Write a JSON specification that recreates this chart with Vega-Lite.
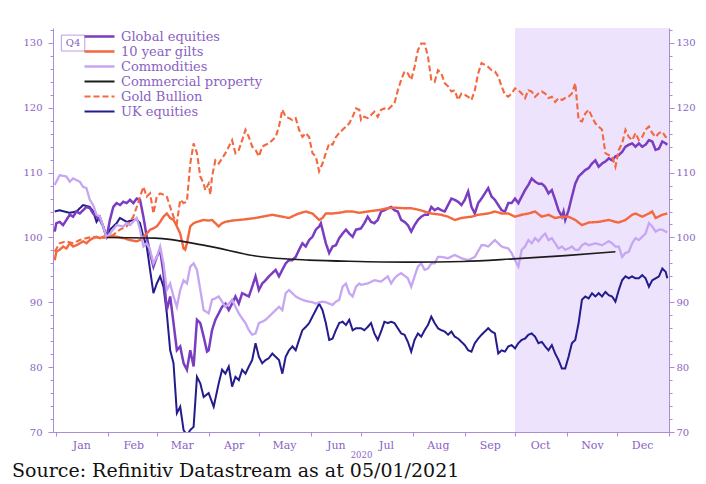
{
"$schema": "https://vega.github.io/schema/vega-lite/v6.json",
"width": 616, "height": 404,
"autosize": {"type": "none"},
"padding": {"left": 53, "top": 28, "right": 37, "bottom": 52},
"background": "white",
"config": {"view": {"stroke": null}, "font": "DejaVu Serif",
  "axis": {"labelFont": "DejaVu Serif", "titleFont": "DejaVu Serif", "domainColor": "#a98ddb", "tickColor": "#a98ddb", "labelColor": "#8a62c4", "titleColor": "#8a62c4", "grid": false}},
"title": {"text": "Source: Refinitiv Datastream as at 05/01/2021", "orient": "bottom", "anchor": "start", "frame": "group", "dx": -41, "offset": 3, "font": "DejaVu Serif", "fontSize": 19, "fontWeight": "normal", "color": "#111111"},
"datasets": {"series": [
{"d":"2019-12-31","s":"UK equities","v":104.0},{"d":"2020-01-03","s":"UK equities","v":104.2},{"d":"2020-01-09","s":"UK equities","v":103.8},{"d":"2020-01-13","s":"UK equities","v":104.0},{"d":"2020-01-17","s":"UK equities","v":105.0},{"d":"2020-01-21","s":"UK equities","v":104.7},{"d":"2020-01-23","s":"UK equities","v":104.0},{"d":"2020-01-25","s":"UK equities","v":102.4},{"d":"2020-01-27","s":"UK equities","v":103.2},{"d":"2020-01-29","s":"UK equities","v":101.7},{"d":"2020-01-31","s":"UK equities","v":100},{"d":"2020-02-02","s":"UK equities","v":101.2},{"d":"2020-02-06","s":"UK equities","v":102.2},{"d":"2020-02-08","s":"UK equities","v":103.0},{"d":"2020-02-12","s":"UK equities","v":102.4},{"d":"2020-02-16","s":"UK equities","v":102.7},{"d":"2020-02-18","s":"UK equities","v":102.8},{"d":"2020-02-20","s":"UK equities","v":102.2},{"d":"2020-02-22","s":"UK equities","v":100.1},{"d":"2020-02-24","s":"UK equities","v":98.6},{"d":"2020-02-26","s":"UK equities","v":95.0},{"d":"2020-02-28","s":"UK equities","v":91.4},{"d":"2020-03-01","s":"UK equities","v":92.9},{"d":"2020-03-03","s":"UK equities","v":94.0},{"d":"2020-03-05","s":"UK equities","v":92.4},{"d":"2020-03-07","s":"UK equities","v":88.3},{"d":"2020-03-09","s":"UK equities","v":82.6},{"d":"2020-03-11","s":"UK equities","v":80.6},{"d":"2020-03-13","s":"UK equities","v":72.9},{"d":"2020-03-15","s":"UK equities","v":73.9},{"d":"2020-03-17","s":"UK equities","v":70.3},{"d":"2020-03-19","s":"UK equities","v":69.5},{"d":"2020-03-21","s":"UK equities","v":70.3},{"d":"2020-03-23","s":"UK equities","v":70.8},{"d":"2020-03-25","s":"UK equities","v":78.5},{"d":"2020-03-27","s":"UK equities","v":77.5},{"d":"2020-03-29","s":"UK equities","v":75.4},{"d":"2020-04-01","s":"UK equities","v":76.0},{"d":"2020-04-04","s":"UK equities","v":73.9},{"d":"2020-04-07","s":"UK equities","v":77.5},{"d":"2020-04-09","s":"UK equities","v":79.6},{"d":"2020-04-11","s":"UK equities","v":79.0},{"d":"2020-04-13","s":"UK equities","v":80.1},{"d":"2020-04-15","s":"UK equities","v":77.0},{"d":"2020-04-17","s":"UK equities","v":78.5},{"d":"2020-04-19","s":"UK equities","v":78.0},{"d":"2020-04-21","s":"UK equities","v":79.6},{"d":"2020-04-23","s":"UK equities","v":79.0},{"d":"2020-04-25","s":"UK equities","v":80.1},{"d":"2020-04-27","s":"UK equities","v":81.1},{"d":"2020-04-29","s":"UK equities","v":83.7},{"d":"2020-05-01","s":"UK equities","v":81.6},{"d":"2020-05-03","s":"UK equities","v":80.6},{"d":"2020-05-05","s":"UK equities","v":81.1},{"d":"2020-05-07","s":"UK equities","v":81.4},{"d":"2020-05-09","s":"UK equities","v":82.1},{"d":"2020-05-11","s":"UK equities","v":81.6},{"d":"2020-05-13","s":"UK equities","v":81.1},{"d":"2020-05-15","s":"UK equities","v":79.0},{"d":"2020-05-17","s":"UK equities","v":81.6},{"d":"2020-05-19","s":"UK equities","v":82.6},{"d":"2020-05-21","s":"UK equities","v":83.2},{"d":"2020-05-23","s":"UK equities","v":82.6},{"d":"2020-05-25","s":"UK equities","v":84.2},{"d":"2020-05-27","s":"UK equities","v":85.7},{"d":"2020-05-29","s":"UK equities","v":86.2},{"d":"2020-05-31","s":"UK equities","v":86.8},{"d":"2020-06-02","s":"UK equities","v":87.8},{"d":"2020-06-04","s":"UK equities","v":88.8},{"d":"2020-06-06","s":"UK equities","v":89.8},{"d":"2020-06-08","s":"UK equities","v":88.8},{"d":"2020-06-10","s":"UK equities","v":86.8},{"d":"2020-06-12","s":"UK equities","v":84.2},{"d":"2020-06-14","s":"UK equities","v":84.4},{"d":"2020-06-16","s":"UK equities","v":85.7},{"d":"2020-06-18","s":"UK equities","v":86.8},{"d":"2020-06-20","s":"UK equities","v":87.0},{"d":"2020-06-22","s":"UK equities","v":86.5},{"d":"2020-06-24","s":"UK equities","v":87.3},{"d":"2020-06-26","s":"UK equities","v":85.7},{"d":"2020-06-28","s":"UK equities","v":86.0},{"d":"2020-07-01","s":"UK equities","v":86.0},{"d":"2020-07-03","s":"UK equities","v":85.7},{"d":"2020-07-05","s":"UK equities","v":86.2},{"d":"2020-07-07","s":"UK equities","v":86.8},{"d":"2020-07-09","s":"UK equities","v":85.2},{"d":"2020-07-11","s":"UK equities","v":84.2},{"d":"2020-07-13","s":"UK equities","v":85.5},{"d":"2020-07-15","s":"UK equities","v":87.0},{"d":"2020-07-17","s":"UK equities","v":86.8},{"d":"2020-07-19","s":"UK equities","v":87.0},{"d":"2020-07-21","s":"UK equities","v":86.8},{"d":"2020-07-23","s":"UK equities","v":86.0},{"d":"2020-07-25","s":"UK equities","v":85.2},{"d":"2020-07-27","s":"UK equities","v":85.0},{"d":"2020-07-29","s":"UK equities","v":83.9},{"d":"2020-07-31","s":"UK equities","v":82.4},{"d":"2020-08-02","s":"UK equities","v":84.2},{"d":"2020-08-04","s":"UK equities","v":85.2},{"d":"2020-08-06","s":"UK equities","v":84.7},{"d":"2020-08-08","s":"UK equities","v":85.7},{"d":"2020-08-10","s":"UK equities","v":86.5},{"d":"2020-08-12","s":"UK equities","v":87.8},{"d":"2020-08-14","s":"UK equities","v":86.8},{"d":"2020-08-16","s":"UK equities","v":86.0},{"d":"2020-08-18","s":"UK equities","v":85.7},{"d":"2020-08-20","s":"UK equities","v":85.5},{"d":"2020-08-22","s":"UK equities","v":85.0},{"d":"2020-08-24","s":"UK equities","v":85.5},{"d":"2020-08-26","s":"UK equities","v":84.7},{"d":"2020-08-28","s":"UK equities","v":84.4},{"d":"2020-08-30","s":"UK equities","v":83.9},{"d":"2020-09-01","s":"UK equities","v":83.4},{"d":"2020-09-03","s":"UK equities","v":82.6},{"d":"2020-09-05","s":"UK equities","v":82.4},{"d":"2020-09-07","s":"UK equities","v":83.7},{"d":"2020-09-09","s":"UK equities","v":84.4},{"d":"2020-09-11","s":"UK equities","v":85.0},{"d":"2020-09-13","s":"UK equities","v":85.5},{"d":"2020-09-15","s":"UK equities","v":86.0},{"d":"2020-09-17","s":"UK equities","v":85.5},{"d":"2020-09-19","s":"UK equities","v":85.2},{"d":"2020-09-21","s":"UK equities","v":82.1},{"d":"2020-09-23","s":"UK equities","v":82.6},{"d":"2020-09-25","s":"UK equities","v":82.4},{"d":"2020-09-27","s":"UK equities","v":83.2},{"d":"2020-09-29","s":"UK equities","v":83.4},{"d":"2020-10-01","s":"UK equities","v":82.9},{"d":"2020-10-03","s":"UK equities","v":83.7},{"d":"2020-10-05","s":"UK equities","v":84.2},{"d":"2020-10-07","s":"UK equities","v":84.4},{"d":"2020-10-09","s":"UK equities","v":85.0},{"d":"2020-10-11","s":"UK equities","v":85.2},{"d":"2020-10-13","s":"UK equities","v":84.7},{"d":"2020-10-15","s":"UK equities","v":83.7},{"d":"2020-10-17","s":"UK equities","v":83.9},{"d":"2020-10-19","s":"UK equities","v":83.2},{"d":"2020-10-21","s":"UK equities","v":82.6},{"d":"2020-10-23","s":"UK equities","v":83.4},{"d":"2020-10-25","s":"UK equities","v":82.1},{"d":"2020-10-27","s":"UK equities","v":81.1},{"d":"2020-10-29","s":"UK equities","v":79.8},{"d":"2020-10-31","s":"UK equities","v":79.8},{"d":"2020-11-02","s":"UK equities","v":81.6},{"d":"2020-11-04","s":"UK equities","v":83.7},{"d":"2020-11-06","s":"UK equities","v":84.2},{"d":"2020-11-08","s":"UK equities","v":86.8},{"d":"2020-11-10","s":"UK equities","v":90.4},{"d":"2020-11-12","s":"UK equities","v":90.9},{"d":"2020-11-14","s":"UK equities","v":90.6},{"d":"2020-11-16","s":"UK equities","v":91.4},{"d":"2020-11-18","s":"UK equities","v":90.9},{"d":"2020-11-20","s":"UK equities","v":91.4},{"d":"2020-11-22","s":"UK equities","v":90.9},{"d":"2020-11-24","s":"UK equities","v":91.6},{"d":"2020-11-26","s":"UK equities","v":91.1},{"d":"2020-11-28","s":"UK equities","v":90.9},{"d":"2020-11-30","s":"UK equities","v":90.1},{"d":"2020-12-02","s":"UK equities","v":91.9},{"d":"2020-12-04","s":"UK equities","v":93.4},{"d":"2020-12-06","s":"UK equities","v":94.0},{"d":"2020-12-08","s":"UK equities","v":93.7},{"d":"2020-12-10","s":"UK equities","v":94.0},{"d":"2020-12-12","s":"UK equities","v":93.7},{"d":"2020-12-14","s":"UK equities","v":93.7},{"d":"2020-12-16","s":"UK equities","v":94.2},{"d":"2020-12-18","s":"UK equities","v":93.7},{"d":"2020-12-20","s":"UK equities","v":92.4},{"d":"2020-12-22","s":"UK equities","v":93.4},{"d":"2020-12-24","s":"UK equities","v":93.7},{"d":"2020-12-26","s":"UK equities","v":94.0},{"d":"2020-12-28","s":"UK equities","v":95.2},{"d":"2020-12-30","s":"UK equities","v":94.7},{"d":"2020-12-31","s":"UK equities","v":93.7},
{"d":"2019-12-31","s":"Global equities","v":100.9},{"d":"2020-01-01","s":"Global equities","v":102.2},{"d":"2020-01-03","s":"Global equities","v":102.4},{"d":"2020-01-05","s":"Global equities","v":101.9},{"d":"2020-01-07","s":"Global equities","v":102.7},{"d":"2020-01-09","s":"Global equities","v":103.5},{"d":"2020-01-11","s":"Global equities","v":103.2},{"d":"2020-01-13","s":"Global equities","v":104.0},{"d":"2020-01-15","s":"Global equities","v":103.7},{"d":"2020-01-17","s":"Global equities","v":104.2},{"d":"2020-01-19","s":"Global equities","v":104.7},{"d":"2020-01-21","s":"Global equities","v":104.5},{"d":"2020-01-23","s":"Global equities","v":103.7},{"d":"2020-01-25","s":"Global equities","v":103.2},{"d":"2020-01-27","s":"Global equities","v":102.7},{"d":"2020-01-29","s":"Global equities","v":101.7},{"d":"2020-01-31","s":"Global equities","v":100},{"d":"2020-02-02","s":"Global equities","v":102.7},{"d":"2020-02-04","s":"Global equities","v":104.7},{"d":"2020-02-06","s":"Global equities","v":105.3},{"d":"2020-02-08","s":"Global equities","v":105.0},{"d":"2020-02-10","s":"Global equities","v":105.5},{"d":"2020-02-12","s":"Global equities","v":105.3},{"d":"2020-02-14","s":"Global equities","v":105.8},{"d":"2020-02-16","s":"Global equities","v":105.3},{"d":"2020-02-18","s":"Global equities","v":106.0},{"d":"2020-02-20","s":"Global equities","v":105.8},{"d":"2020-02-22","s":"Global equities","v":103.2},{"d":"2020-02-24","s":"Global equities","v":100.1},{"d":"2020-02-26","s":"Global equities","v":97.6},{"d":"2020-02-28","s":"Global equities","v":95.5},{"d":"2020-03-01","s":"Global equities","v":97.0},{"d":"2020-03-03","s":"Global equities","v":98.1},{"d":"2020-03-05","s":"Global equities","v":94.5},{"d":"2020-03-07","s":"Global equities","v":88.8},{"d":"2020-03-09","s":"Global equities","v":90.9},{"d":"2020-03-11","s":"Global equities","v":86.8},{"d":"2020-03-13","s":"Global equities","v":82.6},{"d":"2020-03-15","s":"Global equities","v":83.2},{"d":"2020-03-17","s":"Global equities","v":80.6},{"d":"2020-03-19","s":"Global equities","v":79.6},{"d":"2020-03-21","s":"Global equities","v":82.6},{"d":"2020-03-23","s":"Global equities","v":80.1},{"d":"2020-03-25","s":"Global equities","v":87.3},{"d":"2020-03-27","s":"Global equities","v":86.8},{"d":"2020-03-29","s":"Global equities","v":84.7},{"d":"2020-03-31","s":"Global equities","v":82.4},{"d":"2020-04-01","s":"Global equities","v":82.6},{"d":"2020-04-03","s":"Global equities","v":85.7},{"d":"2020-04-05","s":"Global equities","v":87.3},{"d":"2020-04-07","s":"Global equities","v":88.3},{"d":"2020-04-09","s":"Global equities","v":89.3},{"d":"2020-04-11","s":"Global equities","v":89.8},{"d":"2020-04-13","s":"Global equities","v":88.8},{"d":"2020-04-15","s":"Global equities","v":89.8},{"d":"2020-04-17","s":"Global equities","v":90.9},{"d":"2020-04-19","s":"Global equities","v":89.8},{"d":"2020-04-21","s":"Global equities","v":91.4},{"d":"2020-04-25","s":"Global equities","v":90.9},{"d":"2020-04-27","s":"Global equities","v":92.4},{"d":"2020-04-29","s":"Global equities","v":94.0},{"d":"2020-05-01","s":"Global equities","v":91.9},{"d":"2020-05-03","s":"Global equities","v":92.9},{"d":"2020-05-05","s":"Global equities","v":93.4},{"d":"2020-05-07","s":"Global equities","v":94.0},{"d":"2020-05-09","s":"Global equities","v":94.5},{"d":"2020-05-11","s":"Global equities","v":95.0},{"d":"2020-05-13","s":"Global equities","v":94.0},{"d":"2020-05-15","s":"Global equities","v":95.0},{"d":"2020-05-17","s":"Global equities","v":96.0},{"d":"2020-05-19","s":"Global equities","v":96.5},{"d":"2020-05-21","s":"Global equities","v":96.5},{"d":"2020-05-23","s":"Global equities","v":97.0},{"d":"2020-05-25","s":"Global equities","v":98.1},{"d":"2020-05-27","s":"Global equities","v":99.1},{"d":"2020-05-29","s":"Global equities","v":98.6},{"d":"2020-05-31","s":"Global equities","v":99.6},{"d":"2020-06-02","s":"Global equities","v":100.1},{"d":"2020-06-04","s":"Global equities","v":101.2},{"d":"2020-06-06","s":"Global equities","v":101.7},{"d":"2020-06-07","s":"Global equities","v":102.2},{"d":"2020-06-08","s":"Global equities","v":101.2},{"d":"2020-06-10","s":"Global equities","v":99.1},{"d":"2020-06-12","s":"Global equities","v":97.6},{"d":"2020-06-14","s":"Global equities","v":98.6},{"d":"2020-06-16","s":"Global equities","v":98.8},{"d":"2020-06-18","s":"Global equities","v":99.9},{"d":"2020-06-20","s":"Global equities","v":100.6},{"d":"2020-06-22","s":"Global equities","v":101.2},{"d":"2020-06-24","s":"Global equities","v":100.6},{"d":"2020-06-26","s":"Global equities","v":100.1},{"d":"2020-06-28","s":"Global equities","v":101.2},{"d":"2020-07-01","s":"Global equities","v":101.4},{"d":"2020-07-03","s":"Global equities","v":102.2},{"d":"2020-07-05","s":"Global equities","v":103.2},{"d":"2020-07-07","s":"Global equities","v":102.4},{"d":"2020-07-09","s":"Global equities","v":102.2},{"d":"2020-07-11","s":"Global equities","v":102.7},{"d":"2020-07-13","s":"Global equities","v":104.0},{"d":"2020-07-15","s":"Global equities","v":104.2},{"d":"2020-07-17","s":"Global equities","v":104.5},{"d":"2020-07-19","s":"Global equities","v":104.7},{"d":"2020-07-21","s":"Global equities","v":104.2},{"d":"2020-07-23","s":"Global equities","v":104.0},{"d":"2020-07-25","s":"Global equities","v":102.7},{"d":"2020-07-27","s":"Global equities","v":102.4},{"d":"2020-07-29","s":"Global equities","v":101.9},{"d":"2020-07-31","s":"Global equities","v":100.9},{"d":"2020-08-02","s":"Global equities","v":101.9},{"d":"2020-08-04","s":"Global equities","v":102.7},{"d":"2020-08-06","s":"Global equities","v":103.2},{"d":"2020-08-08","s":"Global equities","v":103.5},{"d":"2020-08-10","s":"Global equities","v":103.5},{"d":"2020-08-12","s":"Global equities","v":104.7},{"d":"2020-08-14","s":"Global equities","v":104.2},{"d":"2020-08-16","s":"Global equities","v":104.5},{"d":"2020-08-18","s":"Global equities","v":104.2},{"d":"2020-08-20","s":"Global equities","v":104.0},{"d":"2020-08-22","s":"Global equities","v":105.0},{"d":"2020-08-24","s":"Global equities","v":106.0},{"d":"2020-08-26","s":"Global equities","v":105.8},{"d":"2020-08-28","s":"Global equities","v":105.5},{"d":"2020-08-30","s":"Global equities","v":105.0},{"d":"2020-09-01","s":"Global equities","v":105.8},{"d":"2020-09-03","s":"Global equities","v":107.1},{"d":"2020-09-05","s":"Global equities","v":104.7},{"d":"2020-09-07","s":"Global equities","v":103.7},{"d":"2020-09-09","s":"Global equities","v":105.3},{"d":"2020-09-11","s":"Global equities","v":106.0},{"d":"2020-09-13","s":"Global equities","v":106.8},{"d":"2020-09-15","s":"Global equities","v":107.6},{"d":"2020-09-17","s":"Global equities","v":106.3},{"d":"2020-09-19","s":"Global equities","v":105.8},{"d":"2020-09-21","s":"Global equities","v":105.0},{"d":"2020-09-23","s":"Global equities","v":104.2},{"d":"2020-09-25","s":"Global equities","v":104.0},{"d":"2020-09-27","s":"Global equities","v":105.3},{"d":"2020-09-29","s":"Global equities","v":105.3},{"d":"2020-10-01","s":"Global equities","v":106.0},{"d":"2020-10-03","s":"Global equities","v":105.3},{"d":"2020-10-05","s":"Global equities","v":106.3},{"d":"2020-10-07","s":"Global equities","v":107.3},{"d":"2020-10-09","s":"Global equities","v":108.1},{"d":"2020-10-11","s":"Global equities","v":109.1},{"d":"2020-10-13","s":"Global equities","v":108.6},{"d":"2020-10-15","s":"Global equities","v":108.3},{"d":"2020-10-17","s":"Global equities","v":108.3},{"d":"2020-10-19","s":"Global equities","v":107.8},{"d":"2020-10-21","s":"Global equities","v":106.8},{"d":"2020-10-23","s":"Global equities","v":107.3},{"d":"2020-10-25","s":"Global equities","v":105.8},{"d":"2020-10-27","s":"Global equities","v":104.2},{"d":"2020-10-29","s":"Global equities","v":103.2},{"d":"2020-10-30","s":"Global equities","v":104.0},{"d":"2020-10-31","s":"Global equities","v":102.7},{"d":"2020-11-02","s":"Global equities","v":104.2},{"d":"2020-11-04","s":"Global equities","v":106.3},{"d":"2020-11-06","s":"Global equities","v":108.3},{"d":"2020-11-08","s":"Global equities","v":109.4},{"d":"2020-11-10","s":"Global equities","v":109.9},{"d":"2020-11-12","s":"Global equities","v":110.4},{"d":"2020-11-14","s":"Global equities","v":110.7},{"d":"2020-11-16","s":"Global equities","v":111.4},{"d":"2020-11-18","s":"Global equities","v":111.9},{"d":"2020-11-20","s":"Global equities","v":110.9},{"d":"2020-11-22","s":"Global equities","v":111.4},{"d":"2020-11-24","s":"Global equities","v":111.7},{"d":"2020-11-26","s":"Global equities","v":112.2},{"d":"2020-11-28","s":"Global equities","v":111.9},{"d":"2020-11-30","s":"Global equities","v":112.5},{"d":"2020-12-02","s":"Global equities","v":112.7},{"d":"2020-12-04","s":"Global equities","v":113.2},{"d":"2020-12-06","s":"Global equities","v":114.0},{"d":"2020-12-08","s":"Global equities","v":114.3},{"d":"2020-12-10","s":"Global equities","v":114.5},{"d":"2020-12-12","s":"Global equities","v":114.0},{"d":"2020-12-14","s":"Global equities","v":114.5},{"d":"2020-12-16","s":"Global equities","v":114.0},{"d":"2020-12-18","s":"Global equities","v":114.3},{"d":"2020-12-20","s":"Global equities","v":115.0},{"d":"2020-12-22","s":"Global equities","v":114.8},{"d":"2020-12-24","s":"Global equities","v":113.5},{"d":"2020-12-26","s":"Global equities","v":113.7},{"d":"2020-12-28","s":"Global equities","v":114.8},{"d":"2020-12-30","s":"Global equities","v":114.5},{"d":"2020-12-31","s":"Global equities","v":114.3},
{"d":"2019-12-31","s":"10 year gilts","v":96.5},{"d":"2020-01-01","s":"10 year gilts","v":97.8},{"d":"2020-01-03","s":"10 year gilts","v":98.1},{"d":"2020-01-05","s":"10 year gilts","v":98.6},{"d":"2020-01-07","s":"10 year gilts","v":98.3},{"d":"2020-01-09","s":"10 year gilts","v":99.1},{"d":"2020-01-11","s":"10 year gilts","v":98.6},{"d":"2020-01-13","s":"10 year gilts","v":98.8},{"d":"2020-01-15","s":"10 year gilts","v":99.1},{"d":"2020-01-17","s":"10 year gilts","v":99.4},{"d":"2020-01-19","s":"10 year gilts","v":99.1},{"d":"2020-01-21","s":"10 year gilts","v":99.6},{"d":"2020-01-23","s":"10 year gilts","v":99.9},{"d":"2020-01-25","s":"10 year gilts","v":100.1},{"d":"2020-01-27","s":"10 year gilts","v":99.9},{"d":"2020-01-29","s":"10 year gilts","v":100.1},{"d":"2020-01-31","s":"10 year gilts","v":100},{"d":"2020-02-03","s":"10 year gilts","v":100.2},{"d":"2020-02-06","s":"10 year gilts","v":100.1},{"d":"2020-02-10","s":"10 year gilts","v":99.9},{"d":"2020-02-14","s":"10 year gilts","v":99.6},{"d":"2020-02-18","s":"10 year gilts","v":99.4},{"d":"2020-02-20","s":"10 year gilts","v":99.6},{"d":"2020-02-22","s":"10 year gilts","v":100.1},{"d":"2020-02-24","s":"10 year gilts","v":100.6},{"d":"2020-02-26","s":"10 year gilts","v":101.2},{"d":"2020-02-28","s":"10 year gilts","v":101.4},{"d":"2020-03-01","s":"10 year gilts","v":101.7},{"d":"2020-03-03","s":"10 year gilts","v":102.4},{"d":"2020-03-05","s":"10 year gilts","v":103.2},{"d":"2020-03-07","s":"10 year gilts","v":103.7},{"d":"2020-03-09","s":"10 year gilts","v":103.0},{"d":"2020-03-11","s":"10 year gilts","v":102.7},{"d":"2020-03-13","s":"10 year gilts","v":101.7},{"d":"2020-03-15","s":"10 year gilts","v":100.6},{"d":"2020-03-17","s":"10 year gilts","v":98.3},{"d":"2020-03-18","s":"10 year gilts","v":98.1},{"d":"2020-03-19","s":"10 year gilts","v":99.1},{"d":"2020-03-21","s":"10 year gilts","v":101.7},{"d":"2020-03-23","s":"10 year gilts","v":102.2},{"d":"2020-03-25","s":"10 year gilts","v":102.4},{"d":"2020-03-29","s":"10 year gilts","v":102.7},{"d":"2020-04-01","s":"10 year gilts","v":102.6},{"d":"2020-04-03","s":"10 year gilts","v":102.7},{"d":"2020-04-05","s":"10 year gilts","v":102.2},{"d":"2020-04-07","s":"10 year gilts","v":101.7},{"d":"2020-04-09","s":"10 year gilts","v":102.2},{"d":"2020-04-11","s":"10 year gilts","v":102.4},{"d":"2020-04-15","s":"10 year gilts","v":102.6},{"d":"2020-04-19","s":"10 year gilts","v":102.7},{"d":"2020-04-23","s":"10 year gilts","v":102.8},{"d":"2020-04-29","s":"10 year gilts","v":103.0},{"d":"2020-05-05","s":"10 year gilts","v":103.3},{"d":"2020-05-09","s":"10 year gilts","v":103.5},{"d":"2020-05-15","s":"10 year gilts","v":103.2},{"d":"2020-05-19","s":"10 year gilts","v":103.0},{"d":"2020-05-23","s":"10 year gilts","v":103.5},{"d":"2020-05-25","s":"10 year gilts","v":103.7},{"d":"2020-05-29","s":"10 year gilts","v":104.0},{"d":"2020-06-02","s":"10 year gilts","v":103.7},{"d":"2020-06-06","s":"10 year gilts","v":102.7},{"d":"2020-06-08","s":"10 year gilts","v":103.0},{"d":"2020-06-10","s":"10 year gilts","v":103.7},{"d":"2020-06-14","s":"10 year gilts","v":103.7},{"d":"2020-06-18","s":"10 year gilts","v":103.8},{"d":"2020-06-22","s":"10 year gilts","v":104.0},{"d":"2020-06-26","s":"10 year gilts","v":104.0},{"d":"2020-06-30","s":"10 year gilts","v":103.8},{"d":"2020-07-05","s":"10 year gilts","v":104.0},{"d":"2020-07-11","s":"10 year gilts","v":104.2},{"d":"2020-07-17","s":"10 year gilts","v":104.5},{"d":"2020-07-21","s":"10 year gilts","v":104.6},{"d":"2020-07-27","s":"10 year gilts","v":104.5},{"d":"2020-07-31","s":"10 year gilts","v":104.5},{"d":"2020-08-04","s":"10 year gilts","v":104.3},{"d":"2020-08-08","s":"10 year gilts","v":104.0},{"d":"2020-08-12","s":"10 year gilts","v":103.7},{"d":"2020-08-18","s":"10 year gilts","v":103.5},{"d":"2020-08-22","s":"10 year gilts","v":103.2},{"d":"2020-08-26","s":"10 year gilts","v":102.7},{"d":"2020-08-30","s":"10 year gilts","v":103.0},{"d":"2020-09-05","s":"10 year gilts","v":103.2},{"d":"2020-09-09","s":"10 year gilts","v":103.5},{"d":"2020-09-15","s":"10 year gilts","v":103.7},{"d":"2020-09-19","s":"10 year gilts","v":104.0},{"d":"2020-09-23","s":"10 year gilts","v":103.7},{"d":"2020-09-27","s":"10 year gilts","v":103.7},{"d":"2020-10-01","s":"10 year gilts","v":103.2},{"d":"2020-10-05","s":"10 year gilts","v":103.5},{"d":"2020-10-09","s":"10 year gilts","v":103.7},{"d":"2020-10-13","s":"10 year gilts","v":104.0},{"d":"2020-10-17","s":"10 year gilts","v":103.2},{"d":"2020-10-21","s":"10 year gilts","v":103.5},{"d":"2020-10-25","s":"10 year gilts","v":103.0},{"d":"2020-10-29","s":"10 year gilts","v":103.2},{"d":"2020-11-02","s":"10 year gilts","v":103.2},{"d":"2020-11-06","s":"10 year gilts","v":102.7},{"d":"2020-11-10","s":"10 year gilts","v":101.9},{"d":"2020-11-14","s":"10 year gilts","v":102.3},{"d":"2020-11-20","s":"10 year gilts","v":102.4},{"d":"2020-11-26","s":"10 year gilts","v":102.7},{"d":"2020-11-30","s":"10 year gilts","v":102.4},{"d":"2020-12-02","s":"10 year gilts","v":102.3},{"d":"2020-12-06","s":"10 year gilts","v":102.7},{"d":"2020-12-10","s":"10 year gilts","v":103.5},{"d":"2020-12-12","s":"10 year gilts","v":103.7},{"d":"2020-12-16","s":"10 year gilts","v":103.2},{"d":"2020-12-20","s":"10 year gilts","v":103.7},{"d":"2020-12-22","s":"10 year gilts","v":104.0},{"d":"2020-12-24","s":"10 year gilts","v":103.0},{"d":"2020-12-28","s":"10 year gilts","v":103.5},{"d":"2020-12-31","s":"10 year gilts","v":103.7},
{"d":"2019-12-31","s":"Gold Bullion","v":97.8},{"d":"2020-01-03","s":"Gold Bullion","v":99.1},{"d":"2020-01-07","s":"Gold Bullion","v":99.4},{"d":"2020-01-11","s":"Gold Bullion","v":99.1},{"d":"2020-01-15","s":"Gold Bullion","v":99.6},{"d":"2020-01-19","s":"Gold Bullion","v":99.9},{"d":"2020-01-23","s":"Gold Bullion","v":100.1},{"d":"2020-01-27","s":"Gold Bullion","v":99.9},{"d":"2020-01-31","s":"Gold Bullion","v":100},{"d":"2020-02-04","s":"Gold Bullion","v":100.4},{"d":"2020-02-08","s":"Gold Bullion","v":101.2},{"d":"2020-02-12","s":"Gold Bullion","v":101.7},{"d":"2020-02-16","s":"Gold Bullion","v":103.2},{"d":"2020-02-18","s":"Gold Bullion","v":104.7},{"d":"2020-02-20","s":"Gold Bullion","v":106.3},{"d":"2020-02-22","s":"Gold Bullion","v":107.8},{"d":"2020-02-24","s":"Gold Bullion","v":106.3},{"d":"2020-02-26","s":"Gold Bullion","v":106.8},{"d":"2020-02-28","s":"Gold Bullion","v":103.7},{"d":"2020-03-01","s":"Gold Bullion","v":106.3},{"d":"2020-03-03","s":"Gold Bullion","v":106.8},{"d":"2020-03-05","s":"Gold Bullion","v":106.6},{"d":"2020-03-07","s":"Gold Bullion","v":106.3},{"d":"2020-03-09","s":"Gold Bullion","v":104.7},{"d":"2020-03-11","s":"Gold Bullion","v":103.2},{"d":"2020-03-13","s":"Gold Bullion","v":102.2},{"d":"2020-03-15","s":"Gold Bullion","v":105.8},{"d":"2020-03-17","s":"Gold Bullion","v":105.3},{"d":"2020-03-19","s":"Gold Bullion","v":105.5},{"d":"2020-03-21","s":"Gold Bullion","v":111.4},{"d":"2020-03-23","s":"Gold Bullion","v":114.5},{"d":"2020-03-25","s":"Gold Bullion","v":113.0},{"d":"2020-03-27","s":"Gold Bullion","v":109.4},{"d":"2020-03-29","s":"Gold Bullion","v":108.3},{"d":"2020-03-30","s":"Gold Bullion","v":107.3},{"d":"2020-04-01","s":"Gold Bullion","v":108.3},{"d":"2020-04-02","s":"Gold Bullion","v":106.6},{"d":"2020-04-03","s":"Gold Bullion","v":109.4},{"d":"2020-04-05","s":"Gold Bullion","v":111.9},{"d":"2020-04-07","s":"Gold Bullion","v":111.4},{"d":"2020-04-09","s":"Gold Bullion","v":112.2},{"d":"2020-04-11","s":"Gold Bullion","v":113.0},{"d":"2020-04-13","s":"Gold Bullion","v":114.0},{"d":"2020-04-15","s":"Gold Bullion","v":115.0},{"d":"2020-04-17","s":"Gold Bullion","v":113.0},{"d":"2020-04-19","s":"Gold Bullion","v":113.5},{"d":"2020-04-21","s":"Gold Bullion","v":115.0},{"d":"2020-04-23","s":"Gold Bullion","v":116.6},{"d":"2020-04-25","s":"Gold Bullion","v":115.5},{"d":"2020-04-27","s":"Gold Bullion","v":114.0},{"d":"2020-04-29","s":"Gold Bullion","v":113.5},{"d":"2020-05-01","s":"Gold Bullion","v":112.5},{"d":"2020-05-03","s":"Gold Bullion","v":114.0},{"d":"2020-05-05","s":"Gold Bullion","v":114.3},{"d":"2020-05-07","s":"Gold Bullion","v":114.5},{"d":"2020-05-09","s":"Gold Bullion","v":115.0},{"d":"2020-05-11","s":"Gold Bullion","v":115.5},{"d":"2020-05-13","s":"Gold Bullion","v":117.1},{"d":"2020-05-15","s":"Gold Bullion","v":119.7},{"d":"2020-05-17","s":"Gold Bullion","v":118.6},{"d":"2020-05-19","s":"Gold Bullion","v":118.4},{"d":"2020-05-21","s":"Gold Bullion","v":118.1},{"d":"2020-05-23","s":"Gold Bullion","v":118.4},{"d":"2020-05-25","s":"Gold Bullion","v":116.6},{"d":"2020-05-27","s":"Gold Bullion","v":115.5},{"d":"2020-05-29","s":"Gold Bullion","v":116.1},{"d":"2020-05-31","s":"Gold Bullion","v":115.5},{"d":"2020-06-02","s":"Gold Bullion","v":113.0},{"d":"2020-06-04","s":"Gold Bullion","v":112.5},{"d":"2020-06-06","s":"Gold Bullion","v":110.2},{"d":"2020-06-08","s":"Gold Bullion","v":111.4},{"d":"2020-06-10","s":"Gold Bullion","v":113.0},{"d":"2020-06-12","s":"Gold Bullion","v":114.5},{"d":"2020-06-14","s":"Gold Bullion","v":114.3},{"d":"2020-06-16","s":"Gold Bullion","v":115.5},{"d":"2020-06-18","s":"Gold Bullion","v":116.1},{"d":"2020-06-20","s":"Gold Bullion","v":116.6},{"d":"2020-06-22","s":"Gold Bullion","v":117.1},{"d":"2020-06-24","s":"Gold Bullion","v":117.6},{"d":"2020-06-26","s":"Gold Bullion","v":118.6},{"d":"2020-06-28","s":"Gold Bullion","v":119.9},{"d":"2020-06-30","s":"Gold Bullion","v":119.7},{"d":"2020-07-01","s":"Gold Bullion","v":118.1},{"d":"2020-07-03","s":"Gold Bullion","v":118.6},{"d":"2020-07-05","s":"Gold Bullion","v":118.4},{"d":"2020-07-07","s":"Gold Bullion","v":118.9},{"d":"2020-07-09","s":"Gold Bullion","v":119.4},{"d":"2020-07-11","s":"Gold Bullion","v":118.6},{"d":"2020-07-13","s":"Gold Bullion","v":119.7},{"d":"2020-07-15","s":"Gold Bullion","v":119.9},{"d":"2020-07-17","s":"Gold Bullion","v":119.7},{"d":"2020-07-19","s":"Gold Bullion","v":120.2},{"d":"2020-07-21","s":"Gold Bullion","v":120.7},{"d":"2020-07-23","s":"Gold Bullion","v":122.7},{"d":"2020-07-25","s":"Gold Bullion","v":124.3},{"d":"2020-07-27","s":"Gold Bullion","v":125.6},{"d":"2020-07-29","s":"Gold Bullion","v":125.3},{"d":"2020-07-31","s":"Gold Bullion","v":124.3},{"d":"2020-08-02","s":"Gold Bullion","v":126.3},{"d":"2020-08-04","s":"Gold Bullion","v":128.9},{"d":"2020-08-06","s":"Gold Bullion","v":129.9},{"d":"2020-08-08","s":"Gold Bullion","v":129.9},{"d":"2020-08-10","s":"Gold Bullion","v":127.9},{"d":"2020-08-12","s":"Gold Bullion","v":124.3},{"d":"2020-08-14","s":"Gold Bullion","v":124.0},{"d":"2020-08-16","s":"Gold Bullion","v":125.8},{"d":"2020-08-18","s":"Gold Bullion","v":125.3},{"d":"2020-08-20","s":"Gold Bullion","v":123.8},{"d":"2020-08-22","s":"Gold Bullion","v":123.3},{"d":"2020-08-24","s":"Gold Bullion","v":122.5},{"d":"2020-08-26","s":"Gold Bullion","v":122.7},{"d":"2020-08-28","s":"Gold Bullion","v":121.2},{"d":"2020-08-30","s":"Gold Bullion","v":122.2},{"d":"2020-09-01","s":"Gold Bullion","v":122.0},{"d":"2020-09-03","s":"Gold Bullion","v":121.7},{"d":"2020-09-05","s":"Gold Bullion","v":121.2},{"d":"2020-09-07","s":"Gold Bullion","v":122.7},{"d":"2020-09-09","s":"Gold Bullion","v":125.3},{"d":"2020-09-11","s":"Gold Bullion","v":126.9},{"d":"2020-09-13","s":"Gold Bullion","v":126.6},{"d":"2020-09-15","s":"Gold Bullion","v":126.3},{"d":"2020-09-17","s":"Gold Bullion","v":125.8},{"d":"2020-09-19","s":"Gold Bullion","v":125.6},{"d":"2020-09-21","s":"Gold Bullion","v":124.8},{"d":"2020-09-23","s":"Gold Bullion","v":123.3},{"d":"2020-09-25","s":"Gold Bullion","v":122.0},{"d":"2020-09-27","s":"Gold Bullion","v":121.7},{"d":"2020-09-29","s":"Gold Bullion","v":122.2},{"d":"2020-10-01","s":"Gold Bullion","v":123.0},{"d":"2020-10-03","s":"Gold Bullion","v":122.7},{"d":"2020-10-05","s":"Gold Bullion","v":122.2},{"d":"2020-10-07","s":"Gold Bullion","v":121.5},{"d":"2020-10-09","s":"Gold Bullion","v":122.7},{"d":"2020-10-11","s":"Gold Bullion","v":122.5},{"d":"2020-10-13","s":"Gold Bullion","v":121.7},{"d":"2020-10-15","s":"Gold Bullion","v":122.2},{"d":"2020-10-17","s":"Gold Bullion","v":122.5},{"d":"2020-10-19","s":"Gold Bullion","v":122.2},{"d":"2020-10-21","s":"Gold Bullion","v":121.5},{"d":"2020-10-23","s":"Gold Bullion","v":121.7},{"d":"2020-10-25","s":"Gold Bullion","v":120.9},{"d":"2020-10-27","s":"Gold Bullion","v":121.5},{"d":"2020-10-29","s":"Gold Bullion","v":121.2},{"d":"2020-10-31","s":"Gold Bullion","v":121.5},{"d":"2020-11-02","s":"Gold Bullion","v":121.7},{"d":"2020-11-04","s":"Gold Bullion","v":122.2},{"d":"2020-11-06","s":"Gold Bullion","v":123.8},{"d":"2020-11-08","s":"Gold Bullion","v":118.1},{"d":"2020-11-10","s":"Gold Bullion","v":117.9},{"d":"2020-11-12","s":"Gold Bullion","v":119.1},{"d":"2020-11-14","s":"Gold Bullion","v":119.7},{"d":"2020-11-16","s":"Gold Bullion","v":118.6},{"d":"2020-11-18","s":"Gold Bullion","v":117.6},{"d":"2020-11-20","s":"Gold Bullion","v":117.1},{"d":"2020-11-22","s":"Gold Bullion","v":116.6},{"d":"2020-11-24","s":"Gold Bullion","v":113.0},{"d":"2020-11-26","s":"Gold Bullion","v":112.7},{"d":"2020-11-28","s":"Gold Bullion","v":112.5},{"d":"2020-11-30","s":"Gold Bullion","v":110.9},{"d":"2020-12-02","s":"Gold Bullion","v":113.5},{"d":"2020-12-04","s":"Gold Bullion","v":114.5},{"d":"2020-12-06","s":"Gold Bullion","v":116.6},{"d":"2020-12-08","s":"Gold Bullion","v":115.5},{"d":"2020-12-10","s":"Gold Bullion","v":115.0},{"d":"2020-12-12","s":"Gold Bullion","v":116.1},{"d":"2020-12-14","s":"Gold Bullion","v":115.0},{"d":"2020-12-16","s":"Gold Bullion","v":115.5},{"d":"2020-12-18","s":"Gold Bullion","v":116.6},{"d":"2020-12-20","s":"Gold Bullion","v":117.1},{"d":"2020-12-22","s":"Gold Bullion","v":116.1},{"d":"2020-12-24","s":"Gold Bullion","v":115.5},{"d":"2020-12-26","s":"Gold Bullion","v":116.1},{"d":"2020-12-28","s":"Gold Bullion","v":116.3},{"d":"2020-12-30","s":"Gold Bullion","v":115.5},{"d":"2020-12-31","s":"Gold Bullion","v":115.3},
{"d":"2019-12-31","s":"Commodities","v":108.1},{"d":"2020-01-03","s":"Commodities","v":109.6},{"d":"2020-01-07","s":"Commodities","v":109.4},{"d":"2020-01-09","s":"Commodities","v":108.6},{"d":"2020-01-11","s":"Commodities","v":109.1},{"d":"2020-01-15","s":"Commodities","v":108.6},{"d":"2020-01-17","s":"Commodities","v":107.8},{"d":"2020-01-19","s":"Commodities","v":107.6},{"d":"2020-01-21","s":"Commodities","v":105.8},{"d":"2020-01-23","s":"Commodities","v":105.0},{"d":"2020-01-25","s":"Commodities","v":103.5},{"d":"2020-01-27","s":"Commodities","v":103.2},{"d":"2020-01-29","s":"Commodities","v":101.7},{"d":"2020-01-31","s":"Commodities","v":100},{"d":"2020-02-02","s":"Commodities","v":100.6},{"d":"2020-02-06","s":"Commodities","v":101.9},{"d":"2020-02-10","s":"Commodities","v":101.7},{"d":"2020-02-12","s":"Commodities","v":102.2},{"d":"2020-02-14","s":"Commodities","v":101.9},{"d":"2020-02-18","s":"Commodities","v":103.0},{"d":"2020-02-20","s":"Commodities","v":101.2},{"d":"2020-02-22","s":"Commodities","v":98.6},{"d":"2020-02-24","s":"Commodities","v":99.1},{"d":"2020-02-26","s":"Commodities","v":98.1},{"d":"2020-02-28","s":"Commodities","v":96.0},{"d":"2020-03-01","s":"Commodities","v":97.0},{"d":"2020-03-03","s":"Commodities","v":98.6},{"d":"2020-03-05","s":"Commodities","v":96.0},{"d":"2020-03-07","s":"Commodities","v":91.9},{"d":"2020-03-09","s":"Commodities","v":92.9},{"d":"2020-03-11","s":"Commodities","v":90.9},{"d":"2020-03-13","s":"Commodities","v":89.3},{"d":"2020-03-15","s":"Commodities","v":91.9},{"d":"2020-03-17","s":"Commodities","v":93.4},{"d":"2020-03-19","s":"Commodities","v":92.9},{"d":"2020-03-21","s":"Commodities","v":95.5},{"d":"2020-03-23","s":"Commodities","v":96.0},{"d":"2020-03-25","s":"Commodities","v":95.0},{"d":"2020-03-27","s":"Commodities","v":91.9},{"d":"2020-03-29","s":"Commodities","v":88.8},{"d":"2020-04-01","s":"Commodities","v":88.3},{"d":"2020-04-03","s":"Commodities","v":90.4},{"d":"2020-04-05","s":"Commodities","v":90.6},{"d":"2020-04-07","s":"Commodities","v":90.9},{"d":"2020-04-09","s":"Commodities","v":90.1},{"d":"2020-04-11","s":"Commodities","v":89.3},{"d":"2020-04-13","s":"Commodities","v":89.8},{"d":"2020-04-15","s":"Commodities","v":90.4},{"d":"2020-04-17","s":"Commodities","v":89.3},{"d":"2020-04-19","s":"Commodities","v":88.3},{"d":"2020-04-21","s":"Commodities","v":87.5},{"d":"2020-04-23","s":"Commodities","v":86.8},{"d":"2020-04-25","s":"Commodities","v":85.7},{"d":"2020-04-27","s":"Commodities","v":85.0},{"d":"2020-04-29","s":"Commodities","v":85.2},{"d":"2020-05-01","s":"Commodities","v":86.8},{"d":"2020-05-03","s":"Commodities","v":87.0},{"d":"2020-05-05","s":"Commodities","v":87.3},{"d":"2020-05-07","s":"Commodities","v":87.8},{"d":"2020-05-09","s":"Commodities","v":88.3},{"d":"2020-05-11","s":"Commodities","v":88.8},{"d":"2020-05-13","s":"Commodities","v":89.3},{"d":"2020-05-15","s":"Commodities","v":88.8},{"d":"2020-05-17","s":"Commodities","v":91.4},{"d":"2020-05-19","s":"Commodities","v":91.9},{"d":"2020-05-21","s":"Commodities","v":91.4},{"d":"2020-05-23","s":"Commodities","v":90.9},{"d":"2020-05-25","s":"Commodities","v":90.6},{"d":"2020-05-27","s":"Commodities","v":90.4},{"d":"2020-05-29","s":"Commodities","v":90.2},{"d":"2020-05-31","s":"Commodities","v":90.1},{"d":"2020-06-02","s":"Commodities","v":90.0},{"d":"2020-06-04","s":"Commodities","v":89.8},{"d":"2020-06-06","s":"Commodities","v":90.0},{"d":"2020-06-08","s":"Commodities","v":90.1},{"d":"2020-06-10","s":"Commodities","v":90.0},{"d":"2020-06-12","s":"Commodities","v":89.8},{"d":"2020-06-14","s":"Commodities","v":89.6},{"d":"2020-06-16","s":"Commodities","v":90.1},{"d":"2020-06-18","s":"Commodities","v":90.4},{"d":"2020-06-20","s":"Commodities","v":92.4},{"d":"2020-06-22","s":"Commodities","v":92.9},{"d":"2020-06-24","s":"Commodities","v":91.4},{"d":"2020-06-26","s":"Commodities","v":90.9},{"d":"2020-06-28","s":"Commodities","v":92.4},{"d":"2020-06-30","s":"Commodities","v":92.9},{"d":"2020-07-01","s":"Commodities","v":92.7},{"d":"2020-07-05","s":"Commodities","v":92.9},{"d":"2020-07-09","s":"Commodities","v":93.4},{"d":"2020-07-13","s":"Commodities","v":93.2},{"d":"2020-07-17","s":"Commodities","v":94.0},{"d":"2020-07-19","s":"Commodities","v":92.9},{"d":"2020-07-21","s":"Commodities","v":93.7},{"d":"2020-07-23","s":"Commodities","v":94.2},{"d":"2020-07-25","s":"Commodities","v":94.5},{"d":"2020-07-29","s":"Commodities","v":93.7},{"d":"2020-07-31","s":"Commodities","v":92.4},{"d":"2020-08-02","s":"Commodities","v":94.0},{"d":"2020-08-04","s":"Commodities","v":95.5},{"d":"2020-08-06","s":"Commodities","v":96.0},{"d":"2020-08-08","s":"Commodities","v":95.0},{"d":"2020-08-10","s":"Commodities","v":95.2},{"d":"2020-08-12","s":"Commodities","v":96.0},{"d":"2020-08-14","s":"Commodities","v":96.0},{"d":"2020-08-16","s":"Commodities","v":97.0},{"d":"2020-08-18","s":"Commodities","v":97.0},{"d":"2020-08-22","s":"Commodities","v":96.8},{"d":"2020-08-26","s":"Commodities","v":97.3},{"d":"2020-08-30","s":"Commodities","v":96.8},{"d":"2020-09-03","s":"Commodities","v":96.5},{"d":"2020-09-07","s":"Commodities","v":97.0},{"d":"2020-09-11","s":"Commodities","v":98.8},{"d":"2020-09-13","s":"Commodities","v":98.8},{"d":"2020-09-15","s":"Commodities","v":98.6},{"d":"2020-09-19","s":"Commodities","v":99.6},{"d":"2020-09-21","s":"Commodities","v":99.1},{"d":"2020-09-23","s":"Commodities","v":98.6},{"d":"2020-09-27","s":"Commodities","v":98.3},{"d":"2020-09-29","s":"Commodities","v":97.6},{"d":"2020-10-01","s":"Commodities","v":96.5},{"d":"2020-10-03","s":"Commodities","v":95.5},{"d":"2020-10-05","s":"Commodities","v":98.1},{"d":"2020-10-07","s":"Commodities","v":98.6},{"d":"2020-10-09","s":"Commodities","v":99.6},{"d":"2020-10-11","s":"Commodities","v":99.1},{"d":"2020-10-13","s":"Commodities","v":99.9},{"d":"2020-10-15","s":"Commodities","v":99.4},{"d":"2020-10-17","s":"Commodities","v":100.1},{"d":"2020-10-19","s":"Commodities","v":100.6},{"d":"2020-10-21","s":"Commodities","v":99.6},{"d":"2020-10-23","s":"Commodities","v":99.9},{"d":"2020-10-25","s":"Commodities","v":99.1},{"d":"2020-10-27","s":"Commodities","v":98.3},{"d":"2020-10-29","s":"Commodities","v":98.6},{"d":"2020-10-31","s":"Commodities","v":98.1},{"d":"2020-11-02","s":"Commodities","v":98.3},{"d":"2020-11-04","s":"Commodities","v":98.6},{"d":"2020-11-06","s":"Commodities","v":98.1},{"d":"2020-11-08","s":"Commodities","v":98.1},{"d":"2020-11-10","s":"Commodities","v":98.8},{"d":"2020-11-12","s":"Commodities","v":99.1},{"d":"2020-11-14","s":"Commodities","v":98.8},{"d":"2020-11-18","s":"Commodities","v":99.1},{"d":"2020-11-22","s":"Commodities","v":98.8},{"d":"2020-11-26","s":"Commodities","v":99.4},{"d":"2020-11-28","s":"Commodities","v":99.1},{"d":"2020-11-30","s":"Commodities","v":98.6},{"d":"2020-12-02","s":"Commodities","v":98.6},{"d":"2020-12-04","s":"Commodities","v":97.0},{"d":"2020-12-06","s":"Commodities","v":97.6},{"d":"2020-12-08","s":"Commodities","v":97.8},{"d":"2020-12-10","s":"Commodities","v":99.1},{"d":"2020-12-12","s":"Commodities","v":99.9},{"d":"2020-12-14","s":"Commodities","v":99.6},{"d":"2020-12-16","s":"Commodities","v":100.1},{"d":"2020-12-18","s":"Commodities","v":100.6},{"d":"2020-12-20","s":"Commodities","v":102.2},{"d":"2020-12-22","s":"Commodities","v":101.7},{"d":"2020-12-24","s":"Commodities","v":100.9},{"d":"2020-12-26","s":"Commodities","v":101.2},{"d":"2020-12-28","s":"Commodities","v":101.2},{"d":"2020-12-30","s":"Commodities","v":100.9},{"d":"2020-12-31","s":"Commodities","v":100.8},
{"d":"2020-01-31","s":"Commercial property","v":100},{"d":"2020-02-29","s":"Commercial property","v":99.9},{"d":"2020-03-31","s":"Commercial property","v":98.7},{"d":"2020-04-30","s":"Commercial property","v":97.1},{"d":"2020-05-31","s":"Commercial property","v":96.5},{"d":"2020-06-30","s":"Commercial property","v":96.3},{"d":"2020-07-31","s":"Commercial property","v":96.2},{"d":"2020-08-31","s":"Commercial property","v":96.3},{"d":"2020-09-30","s":"Commercial property","v":96.7},{"d":"2020-10-31","s":"Commercial property","v":97.2},{"d":"2020-11-30","s":"Commercial property","v":97.8}
]},
"layer": [
{"data": {"values": [{}]},
 "mark": {"type": "rect", "color": "#eee3fc"},
 "encoding": {
   "x": {"datum": {"year": 2020, "month": 10, "date": 1, "utc": true}, "type": "temporal", "title": "2020"},
   "x2": {"datum": {"year": 2021, "month": 1, "date": 1, "utc": true}}}},
{"data": {"name": "series"},
 "transform": [{"filter": "datum.s != 'Commercial property'"}],
 "mark": {"type": "line", "clip": true},
 "encoding": {
   "x": {"field": "d", "type": "temporal", "title": "2020",
     "scale": {"type": "utc", "domain": [{"year": 2019, "month": 12, "date": 30, "utc": true}, {"year": 2021, "month": 1, "date": 1, "utc": true}]},
     "axis": {"values": [{"year":2020,"month":1,"date":1,"utc":true},{"year":2020,"month":2,"date":1,"utc":true},{"year":2020,"month":3,"date":1,"utc":true},{"year":2020,"month":4,"date":1,"utc":true},{"year":2020,"month":5,"date":1,"utc":true},{"year":2020,"month":6,"date":1,"utc":true},{"year":2020,"month":7,"date":1,"utc":true},{"year":2020,"month":8,"date":1,"utc":true},{"year":2020,"month":9,"date":1,"utc":true},{"year":2020,"month":10,"date":1,"utc":true},{"year":2020,"month":11,"date":1,"utc":true},{"year":2020,"month":12,"date":1,"utc":true},{"year":2021,"month":1,"date":1,"utc":true}],
       "labelExpr": "utcyear(datum.value) > 2020 ? '' : utcFormat(datum.value, '%b')",
       "labelOffset": 25, "labelFlush": false, "labelOverlap": false, "tickSize": 4, "labelPadding": 3,
       "labelFontSize": 11, "titleFontSize": 8.5, "titleFontWeight": "normal", "titlePadding": 0}},
   "y": {"field": "v", "type": "quantitative",
     "scale": {"domain": [70, 132.3], "nice": false, "zero": false},
     "axis": {"orient": "left", "values": [70, 80, 90, 100, 110, 120, 130], "tickSize": 5, "labelPadding": 6, "labelFontSize": 10, "title": null}},
   "color": {"field": "s", "type": "nominal",
     "scale": {"domain": ["Global equities", "10 year gilts", "Commodities", "Commercial property", "Gold Bullion", "UK equities"], "range": ["#7a3cc0", "#f4683f", "#c6a6f2", "#1c1c1c", "#f4683f", "#231c8c"]},
     "legend": {"title": null, "orient": "none", "legendX": 40, "legendY": 2, "symbolType": "M-3,0H3", "symbolSize": 100, "symbolStrokeWidth": 2, "labelFont": "DejaVu Serif", "labelFontSize": 13, "labelColor": "#8a62c4", "labelOffset": 15, "padding": 0, "rowPadding": 1, "labelLimit": 300}},
   "strokeDash": {"field": "s", "type": "nominal",
     "scale": {"domain": ["Global equities", "10 year gilts", "Commodities", "Commercial property", "Gold Bullion", "UK equities"], "range": [[1, 0], [1, 0], [1, 0], [1, 0], [6, 3], [1, 0]]},
     "legend": {"title": null, "orient": "none", "legendX": 40, "legendY": 2, "symbolType": "M-3,0H3", "symbolSize": 100, "symbolStrokeWidth": 2, "labelFont": "DejaVu Serif", "labelFontSize": 13, "labelColor": "#8a62c4", "labelOffset": 15, "padding": 0, "rowPadding": 1, "labelLimit": 300}},
   "strokeWidth": {"field": "s", "type": "nominal",
     "scale": {"domain": ["Global equities", "10 year gilts", "Commodities", "Commercial property", "Gold Bullion", "UK equities"], "range": [2.5, 2, 1.6, 1.6, 2, 1.8]}, "legend": null}}},
{"data": {"name": "series"},
 "transform": [{"filter": "datum.s == 'Commercial property'"}],
 "mark": {"type": "line", "interpolate": "monotone", "strokeWidth": 1.6},
 "encoding": {
   "x": {"field": "d", "type": "temporal", "title": "2020"},
   "y": {"field": "v", "type": "quantitative",
     "scale": {"domain": [70, 132.3], "nice": false, "zero": false},
     "axis": {"orient": "right", "values": [70, 80, 90, 100, 110, 120, 130], "tickSize": 5, "labelPadding": 2, "labelFontSize": 10, "title": null}},
   "color": {"field": "s", "type": "nominal"}}},
{"data": {"values": [{}]},
 "mark": {"type": "rect", "fill": "white", "stroke": "#b89ee2", "strokeWidth": 1},
 "encoding": {
   "x": {"datum": {"year": 2020, "month": 1, "date": 4, "utc": true}, "type": "temporal", "title": "2020"},
   "x2": {"datum": {"year": 2020, "month": 1, "date": 18, "utc": true}},
   "y": {"datum": 131.2, "type": "quantitative",
     "scale": {"domain": [70, 132.3], "nice": false, "zero": false},
     "axis": {"orient": "left", "values": [72,74,76,78,82,84,86,88,92,94,96,98,102,104,106,108,112,114,116,118,122,124,126,128,132], "labels": false, "domain": false, "tickSize": 3, "title": null}},
   "y2": {"datum": 128.75}}},
{"data": {"values": [{}]},
 "mark": {"type": "text", "text": "Q4", "font": "DejaVu Serif", "fontSize": 10, "color": "#8a62c4"},
 "encoding": {
   "x": {"datum": {"year": 2020, "month": 1, "date": 11, "utc": true}, "type": "temporal", "title": "2020"},
   "y": {"datum": 130, "type": "quantitative",
     "scale": {"domain": [70, 132.3], "nice": false, "zero": false},
     "axis": {"orient": "right", "values": [72,74,76,78,82,84,86,88,92,94,96,98,102,104,106,108,112,114,116,118,122,124,126,128,132], "labels": false, "domain": false, "tickSize": 3, "title": null}}}}
],
"resolve": {"scale": {"y": "independent"}}
}
